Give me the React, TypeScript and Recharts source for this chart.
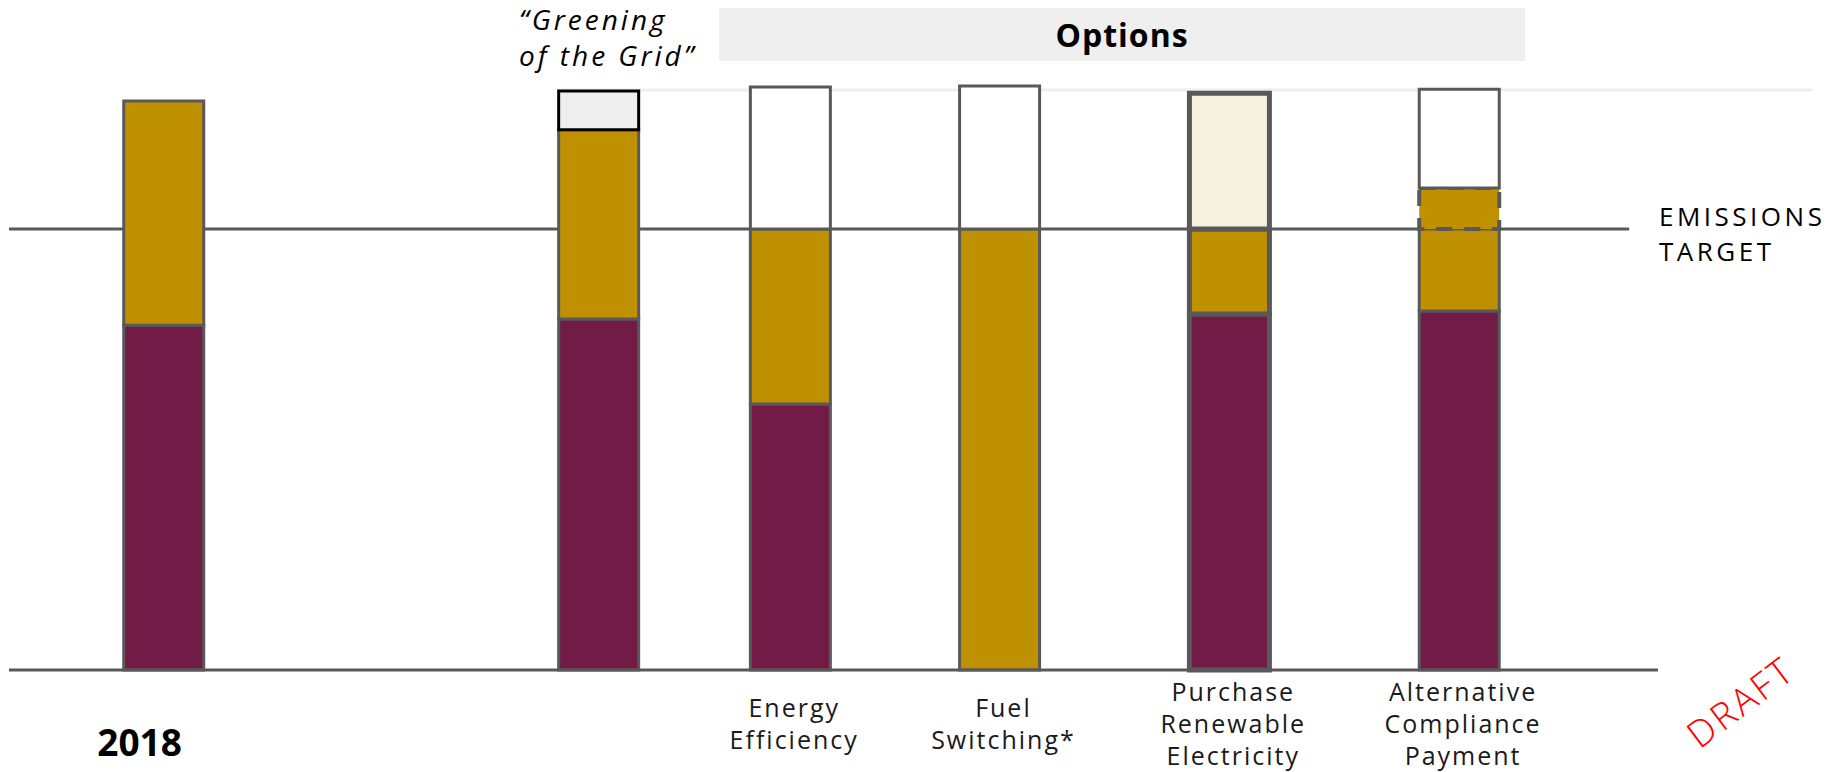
import React from "react"
import { BarChart, Bar, XAxis, YAxis, ReferenceLine, Cell } from "recharts"

// categories in drawing order, with their place along the horizontal axis
const categories = [
  "2018",
  "Greening of the Grid",
  "Energy Efficiency",
  "Fuel Switching*",
  "Purchase Renewable Electricity",
  "Alternative Compliance Payment",
]
const positions = [1.5, 5.72, 7.58, 9.61, 11.84, 14.07]

// stacked segments (emissions target = 100)
const baseEmissions = [78.2, 79.6, 60.3, 0, 80.7, 81.4]
const gasEmissions = [50.8, 42.9, 39.7, 100, 19.3, 18.6]
const paidEmissions = [0, 0, 0, 0, 0, 9.3]
const reduction = [0, 8.8, 32.2, 32.4, 30.8, 22.4]

const tickLines = [
  ["2018"],
  [],
  ["Energy", "Efficiency"],
  ["Fuel", "Switching*"],
  ["Purchase", "Renewable", "Electricity"],
  ["Alternative", "Compliance", "Payment"],
]

const target = 100
const gridTop = 131.5

const data = categories.map((name, i) => ({
  name,
  pos: positions[i],
  base: baseEmissions[i],
  gas: gasEmissions[i],
  paid: paidEmissions[i],
  reduction: reduction[i],
}))

const GREY = "#595959"
const PURPLE = "#731B47"
const GOLD = "#BF9000"
const FONT = "'Open Sans', sans-serif"

const topFills = ["#ffffff", "#EEEEEE", "#ffffff", "#ffffff", "#F6F0DE", "#ffffff"]
const topStrokes = [GREY, "#000000", GREY, GREY, GREY, GREY]
const outline = (i: number) => (i === 4 ? 5 : 3)

function OptionTick(props: any) {
  const { x, y, payload } = props
  const i = positions.indexOf(payload.value)
  if (i < 0) return null
  if (i === 0) {
    return (
      <text x={x - 24} y={y + 71} textAnchor="middle" dominantBaseline="central"
        fontFamily={FONT} fontWeight={700} fontSize={37} fill="#000">
        {tickLines[0][0]}
      </text>
    )
  }
  const lines = tickLines[i]
  const mid = (lines.length - 1) / 2
  return (
    <g>
      {lines.map((t, k) => (
        <text key={k} x={x + 4} y={y + 53 + (k - mid) * 32} textAnchor="middle"
          dominantBaseline="central" fontFamily={FONT} fontSize={25}
          letterSpacing={2} fill="#1a1a1a">
          {t}
        </text>
      ))}
    </g>
  )
}

export default function App() {
  return (
    <div style={{ position: "absolute", left: 0, top: 0, width: 1828, height: 772, background: "#fff", fontFamily: FONT }}>
      <BarChart width={1828} height={772} data={data}
        margin={{ top: 57, right: 170, left: 9, bottom: 2 }}>
        <XAxis dataKey="pos" type="number" domain={[0, 16]} ticks={positions}
          interval={0} height={100} tickLine={false} tickSize={0} tickMargin={0}
          axisLine={{ stroke: GREY, strokeWidth: 3 }} tick={<OptionTick />} />
        <YAxis type="number" domain={[0, 139]} width={0} tick={false}
          axisLine={{ stroke: GREY, strokeWidth: 3 }} />
        <ReferenceLine zIndex={0} segment={[{ x: 5.32, y: gridTop }, { x: 17.5, y: gridTop }]}
          stroke="#EEEEEE" strokeWidth={3} ifOverflow="visible" />
        <ReferenceLine zIndex={0} segment={[{ x: 0, y: target }, { x: 15.72, y: target }]}
          stroke={GREY} strokeWidth={3} />
        <Bar dataKey="base" stackId="s" barSize={80} fill={PURPLE} isAnimationActive={false}>
          {data.map((_, i) => (
            <Cell key={i} stroke={GREY} strokeWidth={outline(i)} />
          ))}
        </Bar>
        <Bar dataKey="gas" stackId="s" barSize={80} fill={GOLD} isAnimationActive={false}>
          {data.map((_, i) => (
            <Cell key={i} stroke={GREY} strokeWidth={outline(i)} />
          ))}
        </Bar>
        <Bar dataKey="paid" stackId="s" barSize={80} fill={GOLD} isAnimationActive={false}>
          {data.map((_, i) => (
            <Cell key={i} stroke={GREY} strokeWidth={4} strokeDasharray="16 12" />
          ))}
        </Bar>
        <Bar dataKey="reduction" stackId="s" barSize={80} isAnimationActive={false}>
          {data.map((_, i) => (
            <Cell key={i} fill={topFills[i]} stroke={topStrokes[i]} strokeWidth={outline(i)} />
          ))}
        </Bar>
      </BarChart>

      <div style={{ position: "absolute", left: 719, top: 8, width: 806, height: 53, background: "#EFEFEF",
        textAlign: "center", lineHeight: "53px", fontSize: 32, letterSpacing: 1, fontWeight: 700, color: "#000" }}>
        Options
      </div>
      <div style={{ position: "absolute", left: 519, top: 1, fontSize: 28, letterSpacing: 3, fontStyle: "italic",
        lineHeight: "36px", color: "#000", whiteSpace: "nowrap" }}>
        <div style={{ height: 36 }}>“Greening</div>
        <div style={{ height: 36 }}>of the Grid”</div>
      </div>
      <div style={{ position: "absolute", left: 1659, top: 199, fontSize: 26, letterSpacing: 3.5,
        lineHeight: "35px", color: "#000" }}>
        EMISSIONS<br />TARGET
      </div>
      <div style={{ position: "absolute", left: 1740, top: 701, transform: "translate(-50%, -50%) rotate(-37deg)",
        fontSize: 37, letterSpacing: 3, color: "#FF0000", fontWeight: 300, whiteSpace: "nowrap" }}>
        DRAFT
      </div>
    </div>
  )
}
